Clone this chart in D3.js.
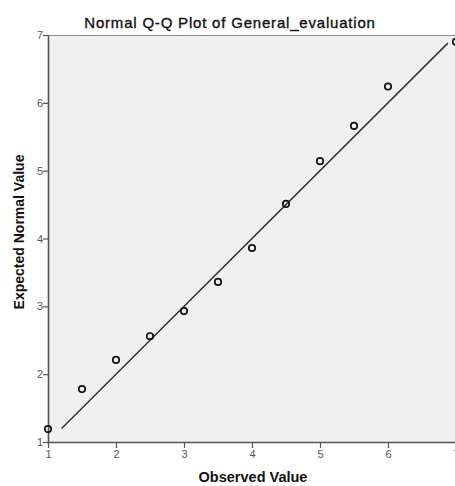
<!DOCTYPE html>
<html><head><meta charset="utf-8">
<script src="https://cdn.jsdelivr.net/npm/d3@7"></script>
<style>body{margin:0;background:#fff}svg{display:block}</style>
</head><body><svg id="c" width="455" height="486"></svg>
<script>
const observed = [1, 1.5, 2, 2.5, 3, 3.5, 4, 4.5, 5, 5.5, 6, 7];
const expected = [1.19, 1.78, 2.21, 2.56, 2.93, 3.36, 3.86, 4.51, 5.14, 5.66, 6.24, 6.90];
const refLine = [1.2, 6.88];
const ticks = [1, 2, 3, 4, 5, 6, 7];

const svg = d3.select("#c");
const L = 48, R = 456, T = 35, B = 442;
const x = d3.scaleLinear().domain([1, 7]).range([L, R]);
const y = d3.scaleLinear().domain([1, 7]).range([B, T]);
const FONT = "Arial, 'Liberation Sans', sans-serif";

svg.append("rect").attr("x", L).attr("y", T).attr("width", R - L).attr("height", B - T).attr("fill", "#f0f0f0");
svg.append("line").attr("x1", L).attr("x2", R).attr("y1", T + 0.5).attr("y2", T + 0.5).attr("stroke", "#8c8c8c").attr("stroke-width", 1.2);

const fmt = d3.format("d");
const gx = svg.append("g").attr("transform", `translate(0,${B})`)
  .call(d3.axisBottom(x).tickValues(ticks).tickFormat(fmt).tickSize(6).tickSizeOuter(0));
const gy = svg.append("g").attr("transform", `translate(${L},0)`)
  .call(d3.axisLeft(y).tickValues(ticks).tickFormat(fmt).tickSize(5).tickSizeOuter(0));
[gx, gy].forEach(g => {
  g.select(".domain").attr("stroke", "#555").attr("stroke-width", 1.6);
  g.selectAll(".tick line").attr("stroke", "#555").attr("stroke-width", 1.2);
  g.selectAll(".tick text").attr("fill", "#555").attr("font-family", FONT).attr("font-size", 11);
});
gx.selectAll(".tick text").attr("y", 8);
gy.selectAll(".tick text").attr("x", -5);

svg.append("line")
  .attr("x1", x(refLine[0])).attr("y1", y(refLine[0]))
  .attr("x2", x(refLine[1])).attr("y2", y(refLine[1]))
  .attr("stroke", "#333").attr("stroke-width", 1.5);

svg.selectAll("circle.p").data(observed).join("circle").attr("class", "p")
  .attr("cx", (d) => x(d)).attr("cy", (d, i) => y(expected[i]))
  .attr("r", 3.2).attr("fill", "none").attr("stroke", "#111").attr("stroke-width", 1.7);

svg.append("text").attr("x", 230).attr("y", 28).attr("text-anchor", "middle")
  .attr("font-family", FONT).attr("font-size", 15).attr("letter-spacing", "0.8px")
  .attr("fill", "#111").attr("stroke", "#111").attr("stroke-width", 0.35)
  .text("Normal Q-Q Plot of General_evaluation");
svg.append("text").attr("x", 253).attr("y", 482).attr("text-anchor", "middle")
  .attr("font-family", FONT).attr("font-size", 14.5).attr("font-weight", "bold").attr("fill", "#111")
  .text("Observed Value");
svg.append("text").attr("transform", "translate(24,232) rotate(-90)").attr("text-anchor", "middle")
  .attr("font-family", FONT).attr("font-size", 14).attr("font-weight", "bold").attr("fill", "#111")
  .text("Expected Normal Value");
</script></body></html>
